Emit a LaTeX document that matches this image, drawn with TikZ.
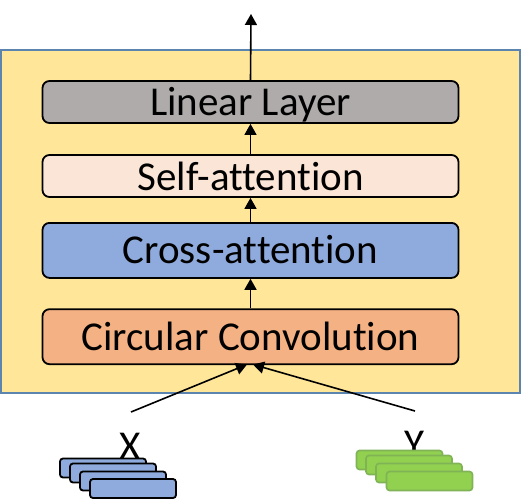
\documentclass[tikz,border=0pt]{standalone}
\usepackage{fontspec}
\setmainfont[Ligatures={NoCommon}]{Carlito}
\usetikzlibrary{arrows.meta}
\definecolor{panelfill}{HTML}{FFE699}
\definecolor{panelline}{HTML}{5B84AE}
\definecolor{greyfill}{HTML}{AFABAB}
\definecolor{peachfill}{HTML}{FBE5D6}
\definecolor{bluefill}{HTML}{8FAADC}
\definecolor{orangefill}{HTML}{F4B183}
\definecolor{greenfill}{HTML}{92D050}
\definecolor{greenline}{HTML}{7FB356}
\tikzset{
  x=1pt,y=-1pt,
  layerbox/.style={draw=black,line width=1.8pt,rounded corners=7pt,minimum width=416pt,inner sep=0pt,text=black,font=\fontsize{41}{41}\selectfont,text depth=0pt},
  flow/.style={draw=black,line width=1.6pt,-{Triangle[length=11pt,width=12pt]}},
  bluecard/.style={draw=black,line width=1.8pt,fill=bluefill,rounded corners=3pt,minimum width=86pt,minimum height=19pt,inner sep=0pt},
  greencard/.style={draw=greenline,line width=1.6pt,fill=greenfill,rounded corners=3pt,minimum width=86pt,minimum height=19pt,inner sep=0pt},
  letter/.style={font=\fontsize{41}{41}\selectfont,inner sep=0pt,text=black}
}
\begin{document}
\begin{tikzpicture}
\useasboundingbox (0,0) rectangle (521,500);
\node[draw=panelline,fill=panelfill,line width=1.6pt,minimum width=519pt,minimum height=343pt,inner sep=0pt] (panel) at (260.5,221.5) {};
\node[layerbox,fill=greyfill,minimum height=42pt,text height=26pt] (linear) at (250.5,102) {Linear Layer};
\node[layerbox,fill=peachfill,minimum height=42pt,text height=29pt] (self) at (250.5,176) {Self-attention};
\node[layerbox,fill=bluefill,minimum height=55pt,text height=27pt] (cross) at (250.5,250.4) {Cross-attention};
\node[layerbox,fill=orangefill,minimum height=55pt,text height=28pt] (circ) at (250.5,336.7) {Circular Convolution};
\coordinate (top) at (251,14);
\coordinate (xs) at (131,412);
\coordinate (ys) at (415,411);
\coordinate (xe) at (247,364.5);
\coordinate (ye) at (253,364.5);
\draw[flow] (linear.north) -- (top);
\draw[flow] (self.north) -- (linear.south);
\draw[flow] (cross.north) -- (self.south);
\draw[flow] (circ.north) -- (cross.south);
\draw[flow] (xs) -- (xe);
\draw[flow] (ys) -- (ye);
\node[letter] (X) at (130,446) {X};
\node[letter] (Y) at (414,444) {Y};
\node[bluecard] (b1) at (103,468) {};
\node[bluecard] (b2) at (113,473) {};
\node[bluecard] (b3) at (123,481) {};
\node[bluecard] (b4) at (133,488.5) {};
\node[greencard] (g1) at (399.5,460) {};
\node[greencard] (g2) at (409,465) {};
\node[greencard] (g3) at (419,473) {};
\node[greencard] (g4) at (429.5,481) {};
\end{tikzpicture}
\end{document}
